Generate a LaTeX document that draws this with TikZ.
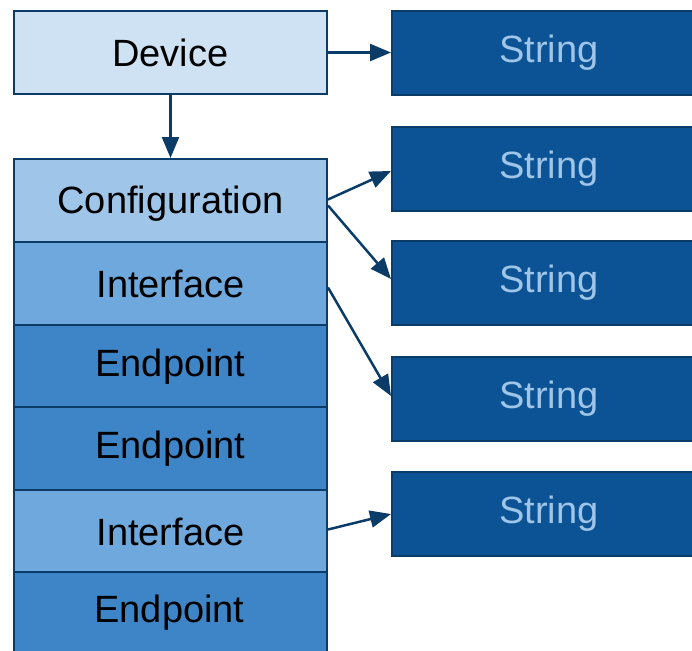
\documentclass[tikz,border=0pt]{standalone}
\usepackage{fontspec}
\setmainfont{Liberation Sans}
\usetikzlibrary{arrows.meta,calc}
\definecolor{bordc}{HTML}{0B3C68}
\definecolor{arrc}{HTML}{0B3C68}
\definecolor{devc}{HTML}{CFE2F3}
\definecolor{confc}{HTML}{9FC5E8}
\definecolor{ifc}{HTML}{6FA8DC}
\definecolor{epc}{HTML}{3D85C6}
\definecolor{strc}{HTML}{0B5394}
\definecolor{strtext}{HTML}{9FC5E8}
\tikzset{
  box/.style={draw=bordc, line width=2pt, minimum width=313pt, minimum height=83pt,
    inner sep=0pt, anchor=north west, text=black, font=\fontsize{38}{38}\selectfont},
  strbox/.style={box, fill=strc, text=strtext, minimum width=314pt, minimum height=84pt},
  link/.style={draw=arrc, line width=2.5pt, -{Triangle[length=21pt,width=17pt]}}
}
\begin{document}
\begin{tikzpicture}[x=1pt,y=-1pt]
  \useasboundingbox (0,0) rectangle (692,650);

  % descriptor stack
  \node[box, fill=devc] (dev) at (13,10) {Device};
  \node[box, fill=confc] (conf) at (13,158) {\raisebox{-3pt}[\height][\depth]{Configuration}};
  \node[box, fill=ifc] (if1) at (13,241) {Interface};
  \node[box, fill=epc] (ep1) at (13,324) {Endpoint};
  \node[box, fill=epc] (ep2) at (13,406) {Endpoint};
  \node[box, fill=ifc] (if2) at (13,489) {Interface};
  \node[box, fill=epc, minimum height=90pt] (ep3) at (13,571) {};
  \node[font=\fontsize{38}{38}\selectfont] (ep3t) at (169.5,613) {Endpoint};

  % string descriptors
  \node[strbox] (s1) at (391,10) {String};
  \node[strbox] (s2) at (391,126) {String};
  \node[strbox] (s3) at (391,240) {String};
  \node[strbox] (s4) at (391,356) {String};
  \node[strbox] (s5) at (391,471) {String};

  % references
  \draw[link] (dev.east) -- (s1.west |- dev.east);
  \draw[link] (dev.south) -- (conf.north);
  \draw[link] ($(conf.east)+(0,-1)$) -- ($(s2.west)+(0,2)$);
  \draw[link] ($(conf.east)+(0,5)$) -- ($(s3.west)+(0,-4)$);
  \draw[link] ($(if1.east)+(0,4)$) -- ($(s4.west)+(0,-3)$);
  \draw[link] ($(if2.east)+(0,-2)$) -- ($(s5.west)+(0,0)$);
\end{tikzpicture}
\end{document}
